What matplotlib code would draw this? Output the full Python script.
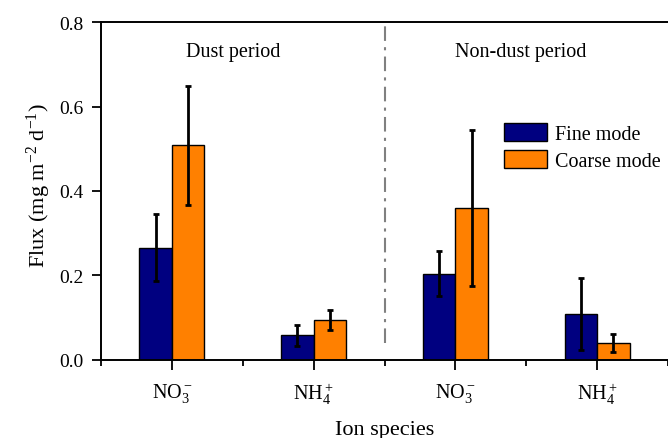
import numpy as np
import matplotlib
matplotlib.use('Agg')
import matplotlib.pyplot as plt
from matplotlib.ticker import MultipleLocator, FormatStrFormatter

plt.rcParams['font.family'] = ['Liberation Serif', 'DejaVu Serif']
plt.rcParams['mathtext.fontset'] = 'custom'
plt.rcParams['mathtext.rm'] = 'Liberation Serif'
plt.rcParams['mathtext.it'] = 'Liberation Serif:italic'

# data
species = ['NO$_3^-$', 'NH$_4^+$', 'NO$_3^-$', 'NH$_4^+$']
fine = [0.266, 0.058, 0.204, 0.109]
fine_err = [0.080, 0.026, 0.053, 0.085]
coarse = [0.508, 0.095, 0.360, 0.040]
coarse_err = [0.140, 0.024, 0.184, 0.022]
periods = ['Dust period', 'Non-dust period']

fig = plt.figure(figsize=(6.68, 4.39), dpi=100)
ax = fig.add_axes([0.1512, 0.1777, 0.8488, 0.7699])

x = np.arange(1, len(species) + 1)
w = 0.23
ekw = dict(elinewidth=2, capsize=2.5, capthick=2, ecolor='black')
ax.bar(x - w / 2, fine, w, yerr=fine_err, color='#000080', edgecolor='black',
       linewidth=1, label='Fine mode', error_kw=ekw)
ax.bar(x + w / 2, coarse, w, yerr=coarse_err, color='#FF8000', edgecolor='black',
       linewidth=1, label='Coarse mode', error_kw=ekw)

# separator between the two periods
ax.plot([2.5, 2.5], [0.04, 0.8], color='#808080', lw=1.5,
        linestyle=(0, (7, 3, 1.5, 3)))
ax.text(1.43, 0.729, periods[0], ha='center', va='center', fontsize=14.5)
ax.text(3.46, 0.729, periods[1], ha='center', va='center', fontsize=14.5)

ax.set_xlim(0.5, 4.5)
ax.set_ylim(0, 0.8)
ax.set_xticks(x)
ax.set_xticklabels(species, fontsize=14.5)
ax.xaxis.set_minor_locator(MultipleLocator(0.5))
ax.yaxis.set_major_locator(MultipleLocator(0.2))
ax.yaxis.set_major_formatter(FormatStrFormatter('%.1f'))
ax.tick_params(axis='y', labelsize=14, length=6.7, width=1.3, direction='out', pad=6)
ax.tick_params(axis='x', which='major', length=7, width=1.3, direction='out', pad=8)
ax.tick_params(axis='x', which='minor', length=4.5, width=1.3, direction='out')
for s in ax.spines.values():
    s.set_linewidth(1.4)
ax.spines['right'].set_visible(False)

ax.set_xlabel('Ion species', fontsize=16, labelpad=10)
ax.set_ylabel('Flux (mg m$^{-2}$ d$^{-1}$)', fontsize=16)
ax.yaxis.set_label_coords(-0.085, 0.52)

ax.legend(loc='upper left', bbox_to_anchor=(0.711, 0.701), frameon=False,
          fontsize=14.5, handlelength=2.15, handleheight=1.0, labelspacing=0.3,
          borderpad=0, borderaxespad=0, handletextpad=0.4)

fig.savefig('out.png', dpi=100)
